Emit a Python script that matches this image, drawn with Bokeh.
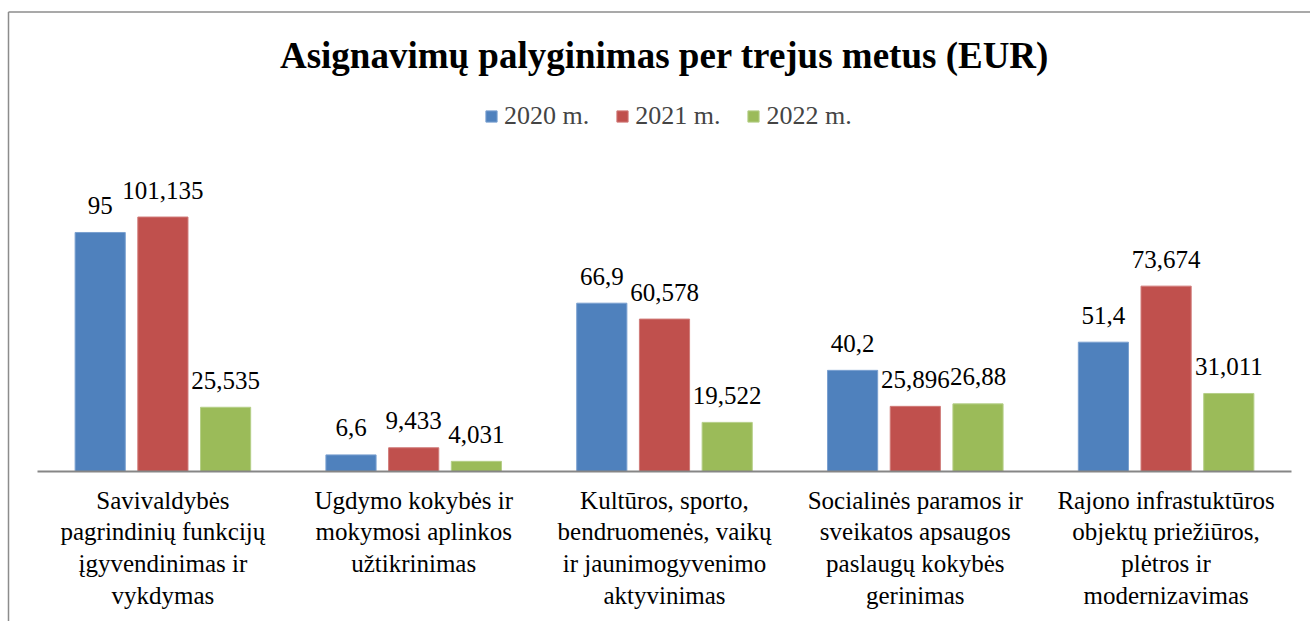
from bokeh.plotting import figure
from bokeh.models import ColumnDataSource, Range1d, Legend, LegendItem
from bokeh.core.properties import value
from bokeh.embed import file_html
from bokeh.resources import INLINE

# ---------------- data ----------------
title = "Asignavimų palyginimas per trejus metus (EUR)"
categories = [
    "Savivaldybės\npagrindinių funkcijų\nįgyvendinimas ir\nvykdymas",
    "Ugdymo kokybės ir\nmokymosi aplinkos\nužtikrinimas",
    "Kultūros, sporto,\nbendruomenės, vaikų\nir jaunimogyvenimo\naktyvinimas",
    "Socialinės paramos ir\nsveikatos apsaugos\npaslaugų kokybės\ngerinimas",
    "Rajono infrastuktūros\nobjektų priežiūros,\nplėtros ir\nmodernizavimas",
]
years = ["2020 m.", "2021 m.", "2022 m."]
v2020 = [95, 6.6, 66.9, 40.2, 51.4]
v2021 = [101.135, 9.433, 60.578, 25.896, 73.674]
v2022 = [25.535, 4.031, 19.522, 26.88, 31.011]
series = [v2020, v2021, v2022]
colors = ["#4F81BD", "#C0504D", "#9BBB59"]
edges = ["#7aa0d0", "#d07a78", "#b5cf88"]

# ---------------- layout ----------------
FONT = "Liberation Serif"
W, H = 1310, 621
PX_X = 250.8      # pixels per category
X0 = 37           # left edge of plotting area (px)
PX_Y = 2.516      # pixels per value unit
Y0 = 471          # baseline position from top (px)
BAR_W = 0.2
OFFS = [-0.25, 0.0, 0.25]

x_range = Range1d(-X0 / PX_X, (W - X0) / PX_X)
y_range = Range1d(-(H - Y0) / PX_Y, Y0 / PX_Y)

p = figure(width=W, height=H, x_range=x_range, y_range=y_range,
           output_backend="svg", toolbar_location=None,
           x_axis_location=None, y_axis_location=None,
           min_border=0, min_border_left=0, min_border_right=0,
           min_border_top=0, min_border_bottom=0)
p.grid.visible = False
p.outline_line_color = None
p.background_fill_color = "white"
p.border_fill_color = "white"

n = len(categories)
centers = [i + 0.5 for i in range(n)]

# frame border (left and top) of the chart area
top_y = y_range.end - 11.5 / PX_Y
left_x = x_range.start + 8.0 / PX_X
p.line(x=[left_x, left_x], y=[y_range.start, top_y], line_color="#8c8c8c", line_width=1.5)
p.line(x=[left_x, x_range.end], y=[top_y, top_y], line_color="#8c8c8c", line_width=1.5)

renderers = []
for k, (vals, col, edg) in enumerate(zip(series, colors, edges)):
    src = ColumnDataSource(dict(
        x=[c + OFFS[k] for c in centers],
        top=vals,
        lab=[f"{v:g}".replace(".", ",") for v in vals],
    ))
    r = p.vbar(x="x", top="top", bottom=0, width=BAR_W, source=src,
               fill_color=col, line_color=edg, line_width=1)
    renderers.append(r)
    p.text(x="x", y="top", text="lab", source=src, text_font=value(FONT),
           text_font_size="25px", text_color="black", text_align="center",
           text_baseline="alphabetic", y_offset=-27)

# baseline
p.segment(x0=[0], y0=[0], x1=[n], y1=[0], line_color="#868686", line_width=2)

# category labels
p.text(x=centers, y=[0] * n, text=categories, text_font=value(FONT),
       text_font_size="25px", text_color="black", text_align="center",
       text_baseline="top", text_line_height=1.18, y_offset=15)

# title
p.text(x=[n / 2], y=[(Y0 - 55) / PX_Y], text=[title], text_font=value(FONT),
       text_font_size="37px", text_font_style="bold", text_color="black",
       text_align="center", text_baseline="alphabetic")

legend = Legend(items=[LegendItem(label=y, renderers=[r]) for y, r in zip(years, renderers)],
                orientation="horizontal", location=(484, H - 131),
                glyph_width=14, glyph_height=14, label_standoff=6, spacing=26,
                padding=0, margin=0, border_line_color=None,
                background_fill_alpha=0, label_text_font=FONT,
                label_text_font_size="26px", label_height=30)
p.add_layout(legend, "center")

open("out.html", "w").write(file_html(p, INLINE))
